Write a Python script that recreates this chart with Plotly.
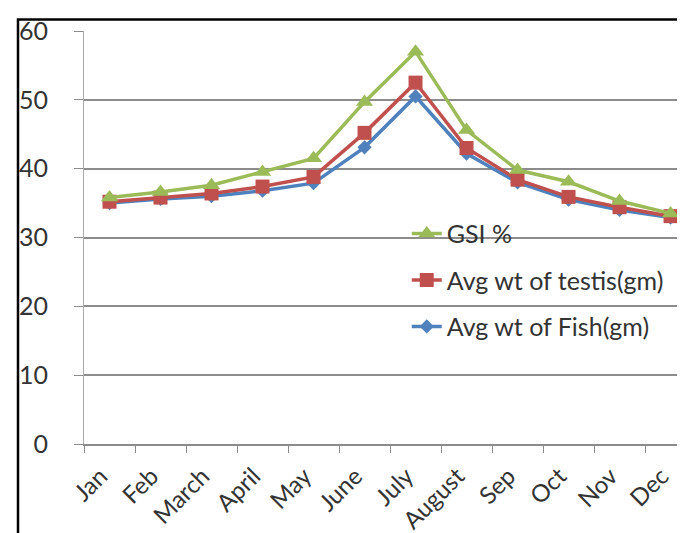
import plotly.graph_objects as go

months = ["Jan", "Feb", "March", "April", "May", "June", "July", "August", "Sep", "Oct", "Nov", "Dec"]
gsi = [35.8, 36.6, 37.6, 39.5, 41.5, 49.7, 57.0, 45.6, 39.8, 38.1, 35.3, 33.5]
testis = [35.2, 35.8, 36.4, 37.4, 38.8, 45.2, 52.5, 43.0, 38.4, 35.9, 34.4, 33.1]
fish = [35.0, 35.6, 36.0, 36.8, 37.9, 43.1, 50.5, 42.2, 38.0, 35.5, 34.0, 32.9]
y_ticks = [0, 10, 20, 30, 40, 50, 60]

FONT = "Lato"
fig = go.Figure()
fig.add_trace(go.Scatter(x=months, y=fish, name="Avg wt of Fish(gm)", mode="lines+markers",
                         legendgroup="c", legendrank=3,
                         line=dict(color="#4F81BD", width=3.5),
                         marker=dict(symbol="diamond", size=11, color="#4F81BD")))
fig.add_trace(go.Scatter(x=months, y=testis, name="Avg wt of testis(gm)", mode="lines+markers",
                         legendgroup="b", legendrank=2,
                         line=dict(color="#C0504D", width=3.5),
                         marker=dict(symbol="square", size=14, color="#C0504D")))
fig.add_trace(go.Scatter(x=months, y=gsi, name="GSI %", mode="lines+markers",
                         legendgroup="a", legendrank=1,
                         line=dict(color="#9BBB59", width=3.5),
                         marker=dict(symbol="triangle-up", size=15, color="#9BBB59")))

fig.update_layout(
    width=685, height=533,
    margin=dict(l=76, r=0, t=23, b=97),
    paper_bgcolor="white", plot_bgcolor="white",
    font=dict(family=FONT, size=25, color="#333333"),
    legend=dict(x=0.53, y=0.565, xanchor="left", yanchor="top",
                traceorder="grouped", tracegroupgap=11,
                bgcolor="rgba(0,0,0,0)", font=dict(size=25, color="#333333")),
    xaxis=dict(type="category", range=[-0.5, 11.44], tickangle=-45,
               tickfont=dict(size=24),
               showgrid=False, showline=True, linecolor="#8c8c8c", linewidth=1.5,
               ticks="outside", tickson="boundaries", ticklen=7, tickcolor="#8c8c8c",
               ticklabelstandoff=7, ticklabelshift=-9),
    yaxis=dict(range=[0, 60], tickvals=y_ticks, showgrid=True, gridcolor="#8c8c8c",
               gridwidth=1.5, showline=True, linecolor="#aaaaaa", linewidth=1,
               ticks="outside", ticklen=9, tickcolor="#8c8c8c", zeroline=False,
               ticklabelstandoff=21),
    shapes=[dict(type="rect", xref="paper", yref="paper",
                 x0=(10 - 76) / 609, x1=1.05, y0=-0.4, y1=(436 - 11.5) / 413,
                 line=dict(color="black", width=2.5), fillcolor="rgba(0,0,0,0)",
                 layer="above")],
)

fig.write_html("out.html")
